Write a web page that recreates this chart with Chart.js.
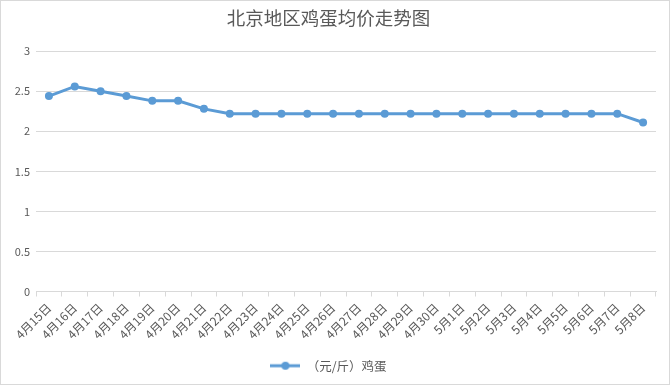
<!DOCTYPE html>
<html>
<head>
<meta charset="utf-8">
<script src="https://cdn.jsdelivr.net/npm/chart.js@4/dist/chart.umd.min.js"></script>
<style>
  html, body { margin: 0; padding: 0; background: #fff; }
  #wrap { width: 670px; height: 385px; box-sizing: border-box; border: 1px solid #d9d9d9; }
  #eggChart { display: block; }
</style>
</head>
<body>
<div id="wrap"><canvas id="eggChart" width="668" height="383"></canvas></div>
<script>
// Egg price data (元/斤)
const dates = ['4月15日', '4月16日', '4月17日', '4月18日', '4月19日', '4月20日', '4月21日', '4月22日',
  '4月23日', '4月24日', '4月25日', '4月26日', '4月27日', '4月28日', '4月29日', '4月30日',
  '5月1日', '5月2日', '5月3日', '5月4日', '5月5日', '5月6日', '5月7日', '5月8日'];
const eggPrices = [2.44, 2.56, 2.5, 2.44, 2.38, 2.38, 2.28, 2.22,
  2.22, 2.22, 2.22, 2.22, 2.22, 2.22, 2.22, 2.22,
  2.22, 2.22, 2.22, 2.22, 2.22, 2.22, 2.22, 2.11];
const yMin = 0, yMax = 3, yStep = 0.5;

const FONT = '"Noto Sans CJK SC", "Microsoft YaHei", sans-serif';
const GRAY = '#595959';
const BLUE = '#5b9bd5';

// legend marker: line with a dot in the middle
const marker = document.createElement('canvas');
marker.width = 30; marker.height = 10;
(function() {
  const c = marker.getContext('2d');
  c.strokeStyle = BLUE; c.lineWidth = 3;
  c.beginPath(); c.moveTo(0, 5); c.lineTo(30, 5); c.stroke();
  c.fillStyle = BLUE;
  c.beginPath(); c.arc(15, 5, 4, 0, Math.PI * 2); c.fill();
})();

new Chart(document.getElementById('eggChart'), {
  type: 'line',
  data: {
    labels: dates,
    datasets: [{
      label: '（元/斤）鸡蛋',
      data: eggPrices,
      borderColor: BLUE,
      backgroundColor: BLUE,
      borderWidth: 3,
      pointRadius: 4,
      pointBorderWidth: 0,
      tension: 0,
    }]
  },
  options: {
    responsive: false,
    animation: false,
    devicePixelRatio: 1,
    layout: { padding: { left: 0, right: 13, top: 2, bottom: 2 } },
    plugins: {
      title: {
        display: true,
        text: '北京地区鸡蛋均价走势图',
        color: GRAY,
        font: { family: FONT, size: 18.5, weight: 'normal' },
        padding: { top: 4, bottom: 22 }
      },
      legend: {
        position: 'bottom',
        labels: {
          color: GRAY,
          font: { family: FONT, size: 12.5 },
          usePointStyle: true,
          pointStyleWidth: 30,
          padding: 8,
          generateLabels: function(chart) {
            const items = Chart.defaults.plugins.legend.labels.generateLabels(chart);
            items.forEach(it => { it.pointStyle = marker; });
            return items;
          }
        }
      },
      tooltip: { enabled: false }
    },
    scales: {
      x: {
        offset: true,
        afterFit: function(scale) {
          scale.height = 60;
        },
        grid: {
          display: true,
          drawOnChartArea: false,
          drawTicks: true,
          tickLength: 5,
          color: '#d9d9d9',
          offset: true
        },
        border: { display: true, color: '#d9d9d9' },
        ticks: {
          color: GRAY,
          font: { family: FONT, size: 12 },
          minRotation: 45,
          maxRotation: 45,
          autoSkip: false,
          padding: 4
        }
      },
      y: {
        min: yMin,
        max: yMax,
        afterFit: function(scale) {
          scale.width = 35;
        },
        grid: { color: '#d9d9d9', drawTicks: false },
        border: { display: false },
        ticks: {
          stepSize: yStep,
          color: GRAY,
          font: { family: FONT, size: 11 },
          padding: 6,
          callback: function(value) {
            return String(Math.round(value * 10) / 10);
          }
        }
      }
    }
  }
});
</script>
</body>
</html>
